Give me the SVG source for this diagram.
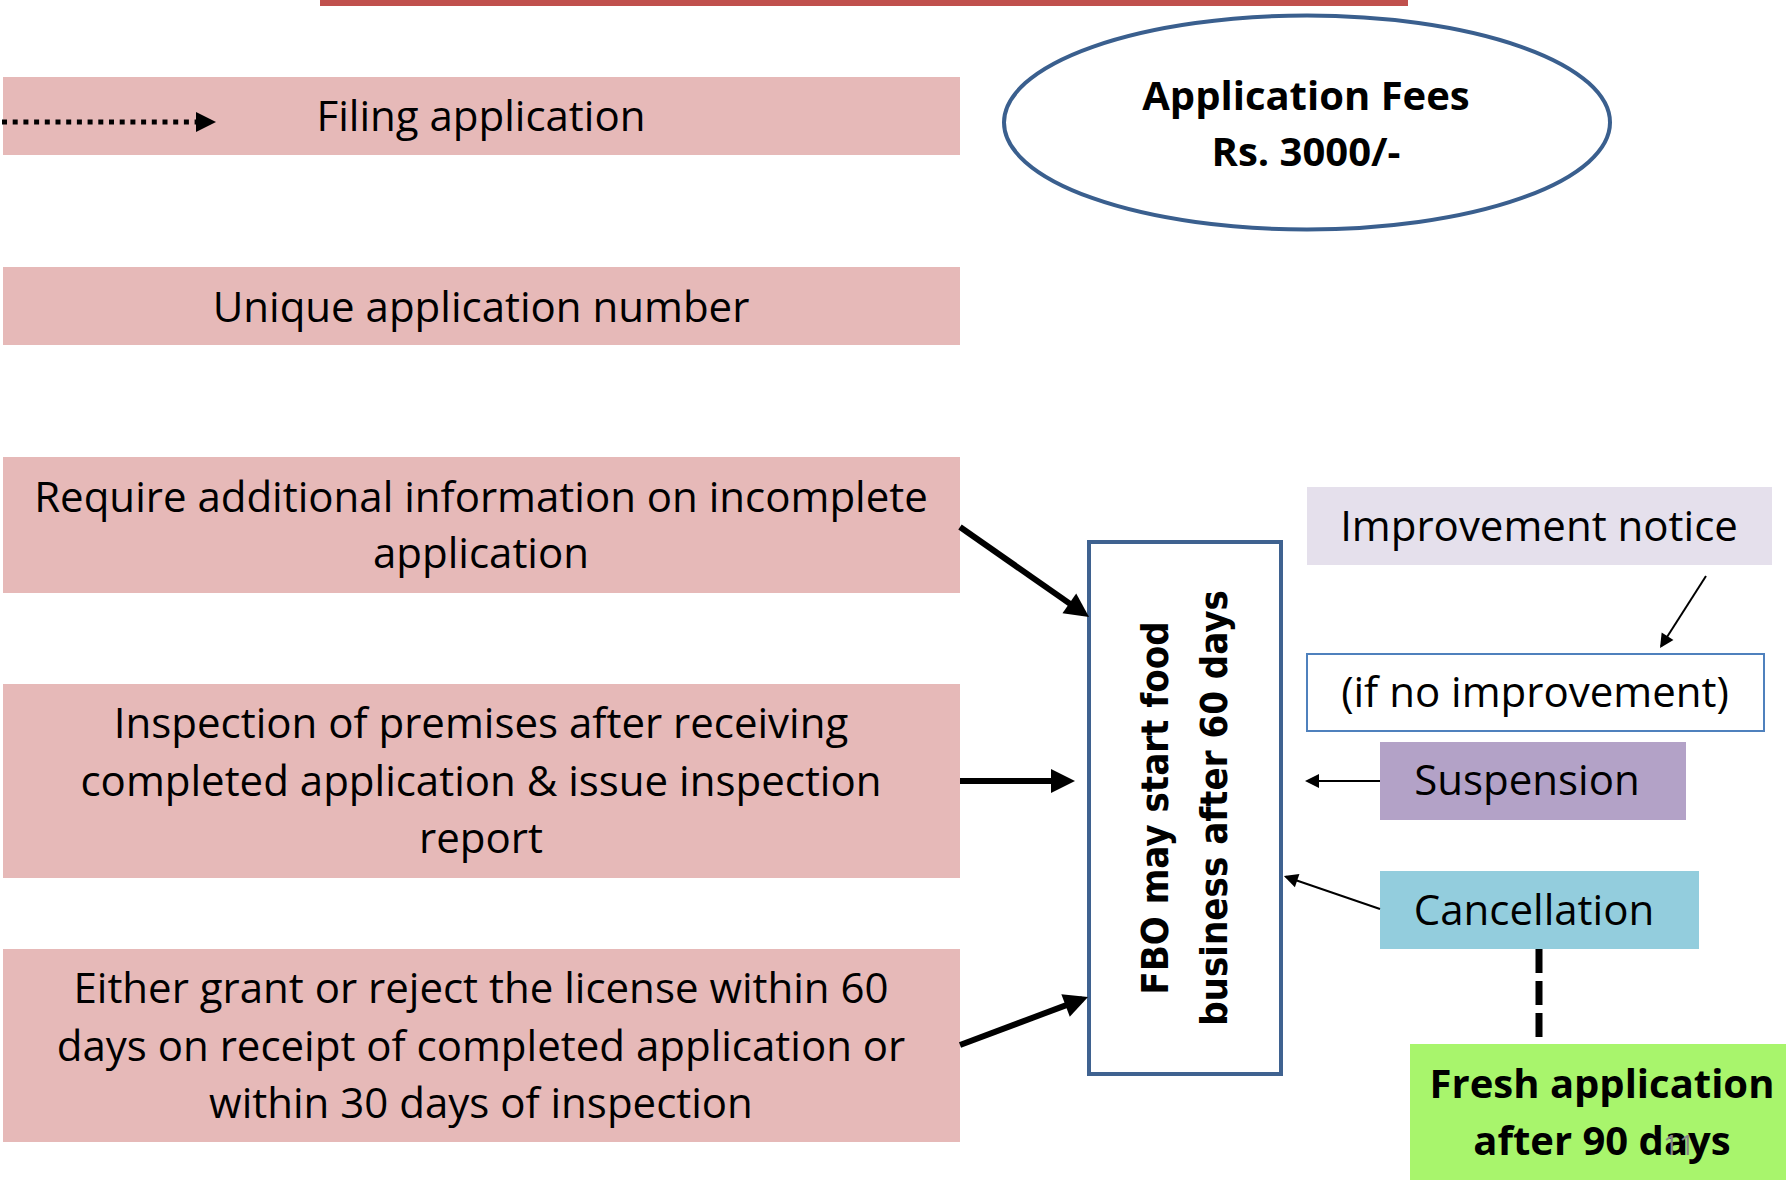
<svg xmlns="http://www.w3.org/2000/svg" width="1786" height="1192" viewBox="0 0 1786 1192">
<defs>
<style>
.t{font-family:"Open Sans","Liberation Sans",sans-serif;font-size:42px;fill:#000;text-anchor:middle}
.b{font-weight:bold;font-size:40px}
.pink{fill:#E6B9B8}
.fbo{font-family:"DejaVu Sans Condensed","DejaVu Sans",sans-serif;font-weight:bold;font-stretch:condensed;font-size:38px;text-anchor:middle;fill:#000}
.thick{stroke:#000;stroke-width:6;fill:none;marker-end:url(#headT)}
.thin{stroke:#000;stroke-width:2;fill:none;marker-end:url(#headS)}
</style>
<marker id="headT" viewBox="0 0 4 4" refX="3" refY="2" markerWidth="4" markerHeight="4" markerUnits="strokeWidth" orient="auto" overflow="visible">
<path d="M0,0 L4,2 L0,4 z" fill="#000"/>
</marker>
<marker id="headS" viewBox="0 0 7 7" refX="6" refY="3.5" markerWidth="7" markerHeight="7" markerUnits="strokeWidth" orient="auto" overflow="visible">
<path d="M0,0 L7,3.5 L0,7 z" fill="#000"/>
</marker>
</defs>
<rect x="0" y="0" width="1786" height="1192" fill="#fff"/>
<rect x="320" y="0" width="1088" height="6" fill="#C0504D"/>

<g id="filing">
<rect class="pink" x="3" y="77" width="957" height="78"/>
<text class="t" x="481" y="131">Filing application</text>
</g>
<g id="unique">
<rect class="pink" x="3" y="267" width="957" height="78"/>
<text class="t" x="481" y="322">Unique application number</text>
</g>
<g id="require">
<rect class="pink" x="3" y="457" width="957" height="136"/>
<text class="t" x="481" y="512">Require additional information on incomplete</text>
<text class="t" x="481" y="568">application</text>
</g>
<g id="inspection">
<rect class="pink" x="3" y="684" width="957" height="194"/>
<text class="t" x="481" y="738">Inspection of premises after receiving</text>
<text class="t" x="481" y="796">completed application &amp; issue inspection</text>
<text class="t" x="481" y="853">report</text>
</g>
<g id="grant">
<rect class="pink" x="3" y="949" width="957" height="193"/>
<text class="t" x="481" y="1003">Either grant or reject the license within 60</text>
<text class="t" x="481" y="1061">days on receipt of completed application or</text>
<text class="t" x="481" y="1118">within 30 days of inspection</text>
</g>
<g id="fees">
<ellipse cx="1307" cy="122.5" rx="303" ry="107" fill="#fff" stroke="#3A5F8E" stroke-width="4"/>
<text class="t b" x="1306" y="110">Application Fees</text>
<text class="t b" x="1306" y="166" font-size="41">Rs. 3000/-</text>
</g>
<g id="fbo">
<rect x="1089" y="542" width="192" height="532" fill="#fff" stroke="#3F6290" stroke-width="4"/>
<text class="fbo" transform="translate(1168,808) rotate(-90)">FBO may start food</text>
<text class="fbo" transform="translate(1227,808) rotate(-90)">business after 60 days</text>
</g>
<g id="improvement">
<rect x="1307" y="487" width="465" height="78" fill="#E5E0EC"/>
<text class="t" x="1539" y="541">Improvement notice</text>
</g>
<g id="noimprovement">
<rect x="1307" y="654" width="457" height="77" fill="#fff" stroke="#4F81BD" stroke-width="2"/>
<text class="t" x="1535" y="707">(if no improvement)</text>
</g>
<g id="suspension">
<rect x="1380" y="742" width="306" height="78" fill="#B3A2C7"/>
<text class="t" x="1527" y="795">Suspension</text>
</g>
<g id="cancellation">
<rect x="1380" y="871" width="319" height="78" fill="#93CDDD"/>
<text class="t" x="1534" y="925">Cancellation</text>
</g>
<g id="fresh">
<rect x="1410" y="1044" width="376" height="136" fill="#A8F56C"/>
<text class="t b" x="1602" y="1098">Fresh application</text>
<text class="t b" x="1602" y="1155">after 90 days</text>
</g>
<text x="1679" y="1155" font-family="'Open Sans','Liberation Sans',sans-serif" font-size="28" fill="#898989" text-anchor="middle">11</text>

<g id="connectors">
<line x1="2" y1="122" x2="211" y2="122" stroke="#000" stroke-width="5" stroke-dasharray="5 5.7" marker-end="url(#headT)"/>
<line class="thick" x1="960" y1="527" x2="1084.1" y2="613.6"/>
<line class="thick" x1="960" y1="781" x2="1069" y2="781"/>
<line class="thick" x1="960" y1="1045" x2="1082.4" y2="999.1"/>
<line class="thin" x1="1706" y1="576" x2="1661.1" y2="646.3"/>
<line class="thin" x1="1380" y1="781" x2="1307" y2="781"/>
<line class="thin" x1="1380" y1="909" x2="1285.8" y2="876.7"/>
<line x1="1539" y1="949" x2="1539" y2="1037" stroke="#000" stroke-width="7" stroke-dasharray="24 8"/>
</g>
</svg>
